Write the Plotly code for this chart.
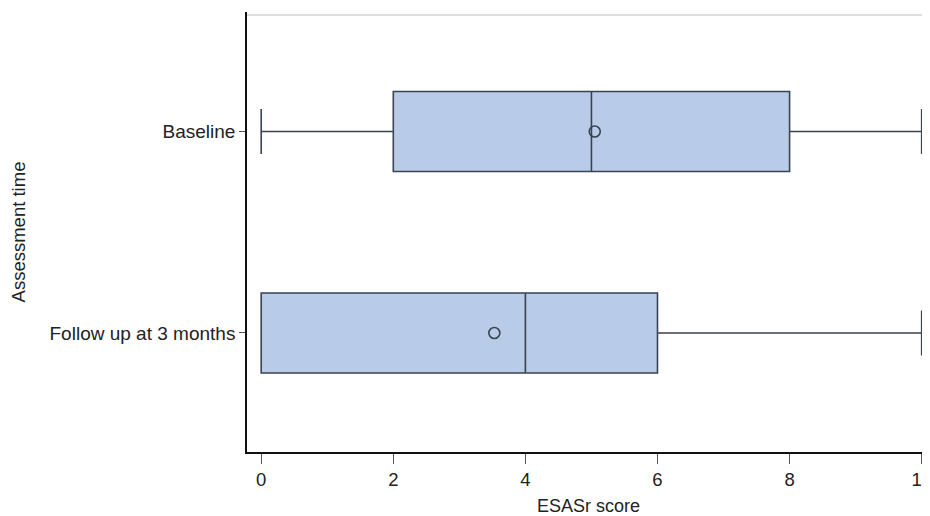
import plotly.graph_objects as go

categories = ["Baseline", "Follow up at 3 months"]
q1 = [2, 0]
median = [5, 4]
q3 = [8, 6]
lower = [0, 0]
upper = [10, 10]
means = [5.05, 3.53]

x_ticks = [0, 2, 4, 6, 8, 10]

FONT = "Liberation Sans, Arial, sans-serif"
LINE = "#3a4350"
FILL = "#b8cbe8"

fig = go.Figure()
fig.add_trace(go.Box(
    y=categories, q1=q1, median=median, q3=q3,
    lowerfence=lower, upperfence=upper,
    orientation="h", width=0.397, whiskerwidth=0.56,
    fillcolor=FILL, line=dict(color=LINE, width=1.6),
    boxpoints=False, showlegend=False, hoverinfo="skip",
))
fig.add_trace(go.Scatter(
    x=means, y=categories, mode="markers",
    marker=dict(symbol="circle-open", size=11, color=LINE, line=dict(width=1.6)),
    showlegend=False, hoverinfo="skip",
))

# page has an 8px body margin, so the figure is sized/positioned to compensate
fig.update_layout(
    width=922, height=508,
    margin=dict(l=239, r=0, t=4, b=64, autoexpand=False),
    paper_bgcolor="white", plot_bgcolor="white",
    font=dict(family=FONT, size=18.5, color="#222"),
    xaxis=dict(
        range=[-0.215, 10.126], tickvals=x_ticks, ticktext=[str(v) for v in x_ticks],
        showgrid=False, zeroline=False, showline=True, linecolor="#111", linewidth=1.6,
        ticks="outside", ticklen=10, tickwidth=1.3, tickcolor="#555",
        ticklabeloverflow="allow",
        title=dict(text="ESASr score", font=dict(size=18), standoff=12),
        tickfont=dict(size=18.5), automargin=False,
    ),
    yaxis=dict(
        type="category", categoryorder="array",
        categoryarray=["Follow up at 3 months", "Baseline"],
        range=[-0.5906, 1.593],
        showgrid=False, zeroline=False, showline=True, linecolor="#111", linewidth=1.6,
        ticks="outside", ticklen=6, tickwidth=1.2, tickcolor="#555",
        title=dict(text="Assessment time", font=dict(size=18.5), standoff=20),
        tickfont=dict(size=19), automargin=False,
    ),
    shapes=[dict(type="line", xref="paper", yref="paper", x0=0, x1=1, y0=0.993, y1=0.993,
                 line=dict(color="#dddddd", width=2))],
)

fig.write_html("out.html")
